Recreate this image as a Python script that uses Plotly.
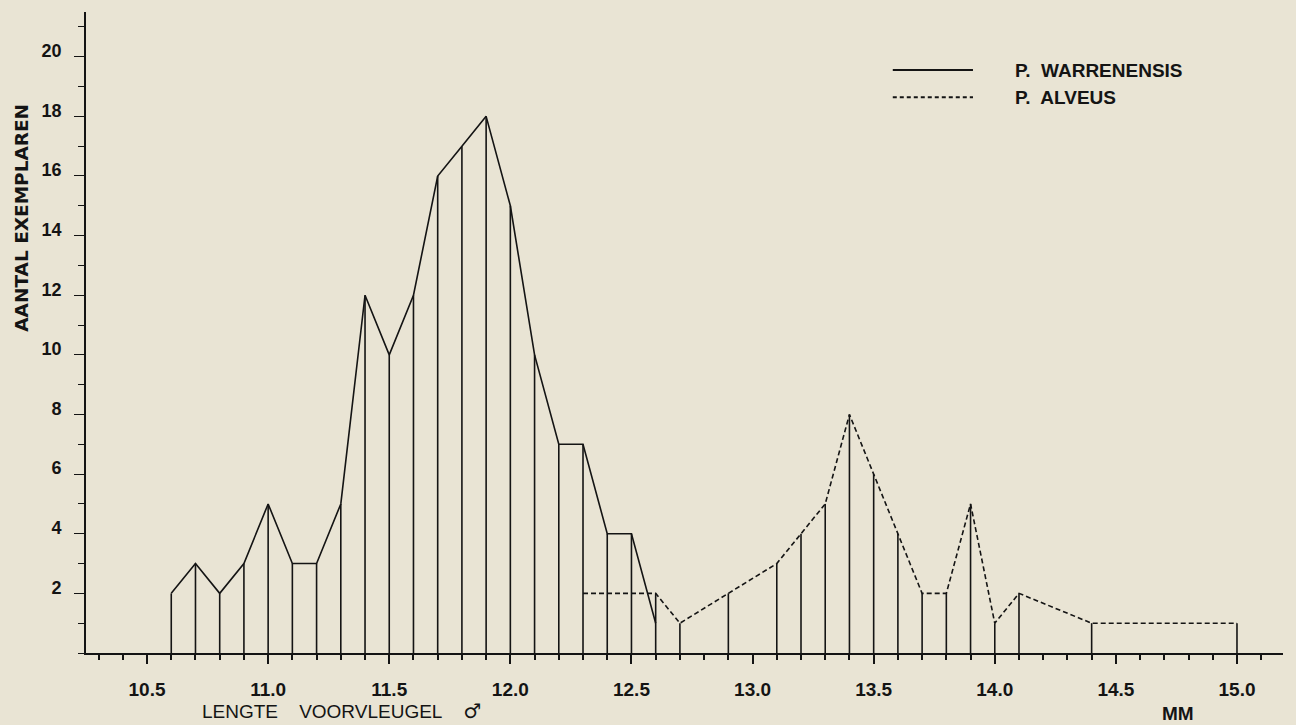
import plotly.graph_objects as go

# P. warrenensis (solid)
warr_x = [10.6, 10.7, 10.8, 10.9, 11.0, 11.1, 11.2, 11.3, 11.4, 11.5, 11.6,
          11.7, 11.8, 11.9, 12.0, 12.1, 12.2, 12.3, 12.4, 12.5, 12.6]
warr_y = [2, 3, 2, 3, 5, 3, 3, 5, 12, 10, 12, 16, 17, 18, 15, 10, 7, 7, 4, 4, 1]

# P. alveus (dashed)
alv_x = [12.3, 12.4, 12.5, 12.6, 12.7, 12.9, 13.1, 13.2, 13.3, 13.4, 13.5,
         13.6, 13.7, 13.8, 13.9, 14.0, 14.1, 14.4, 15.0]
alv_y = [2, 2, 2, 2, 1, 2, 3, 4, 5, 8, 6, 4, 2, 2, 5, 1, 2, 1, 1]

x_ticks = [10.5, 11.0, 11.5, 12.0, 12.5, 13.0, 13.5, 14.0, 14.5, 15.0]
x_tick_labels = ["10.5", "11.0", "11.5", "12.0", "12.5", "13.0", "13.5", "14.0", "14.5", "15.0"]
y_ticks = [2, 4, 6, 8, 10, 12, 14, 16, 18, 20]

legend_names = ["P.\u00a0 WARRENENSIS", "P.\u00a0 ALVEUS"]
x_title_words = "LENGTE\u00a0\u00a0\u00a0 VOORVLEUGEL\u00a0\u00a0\u00a0 "
male_sign = "\u2642"
y_title = "AANTAL EXEMPLAREN"
unit_label = "MM"

BG = "#e9e4d4"
INK = "#141414"
SANS = "Liberation Sans, Arial, sans-serif"

# vertical drop lines from the data
heights = {}
for xs, ys in ((warr_x, warr_y), (alv_x, alv_y)):
    for x, y in zip(xs, ys):
        k = round(x, 2)
        heights[k] = max(heights.get(k, 0), y)
vx, vy = [], []
for k in sorted(heights):
    vx += [k, k, None]
    vy += [0, heights[k], None]

fig = go.Figure()
fig.add_trace(go.Scatter(x=vx, y=vy, mode="lines",
                         line=dict(color=INK, width=1.6), showlegend=False,
                         hoverinfo="skip"))
fig.add_trace(go.Scatter(x=warr_x, y=warr_y, mode="lines", name=legend_names[0],
                         line=dict(color=INK, width=1.6), showlegend=False))
fig.add_trace(go.Scatter(x=alv_x, y=alv_y, mode="lines", name=legend_names[1],
                         line=dict(color=INK, width=1.6, dash="5px,3px"),
                         showlegend=False))

fig.update_layout(
    width=1296, height=725,
    paper_bgcolor=BG, plot_bgcolor=BG,
    margin=dict(l=86, r=13, t=12, b=72),
    showlegend=False,
    xaxis=dict(range=[10.248, 15.19], showgrid=False, zeroline=False,
               showline=True, linecolor=INK, linewidth=1.6,
               tickmode="array", tickvals=x_ticks, ticktext=x_tick_labels,
               ticks="outside", ticklen=9, tickwidth=1.6, tickcolor=INK,
               ticklabelstandoff=9,
               tickfont=dict(family=SANS, size=19, color=INK, weight="bold"),
               minor=dict(dtick=0.1, tick0=10.5, ticks="outside", ticklen=5,
                          tickwidth=1.6, tickcolor=INK, showgrid=False)),
    yaxis=dict(range=[0, 21.5], showgrid=False, zeroline=False,
               showline=True, linecolor=INK, linewidth=1.6,
               tickmode="array", tickvals=y_ticks,
               ticks="outside", ticklen=10, tickwidth=1.4, tickcolor=INK,
               ticklabelstandoff=9, ticklabelshift=-6,
               tickfont=dict(family=SANS, size=18, color=INK, weight="bold"),
               minor=dict(dtick=1, tick0=0, ticks="outside", ticklen=6,
                          tickwidth=1.4, tickcolor=INK, showgrid=False)),
)

# legend drawn as line samples + text
fig.add_shape(type="line", xref="paper", yref="paper", x0=0.674, x1=0.741,
              y0=0.9095, y1=0.9095, line=dict(color=INK, width=1.8))
fig.add_shape(type="line", xref="paper", yref="paper", x0=0.674, x1=0.741,
              y0=0.867, y1=0.867, line=dict(color=INK, width=1.8, dash="4px,3px"))
fig.add_annotation(xref="paper", yref="paper", x=0.7745, y=0.9095, text=legend_names[0],
                   showarrow=False, xanchor="left", yanchor="middle",
                   font=dict(family=SANS, size=19, color=INK, weight="bold"))
fig.add_annotation(xref="paper", yref="paper", x=0.7745, y=0.867, text=legend_names[1],
                   showarrow=False, xanchor="left", yanchor="middle",
                   font=dict(family=SANS, size=19, color=INK, weight="bold"))

# axis titles
fig.add_annotation(xref="paper", yref="y", x=0, xshift=-64, y=14.6, text=y_title,
                   textangle=-90, showarrow=False, xanchor="center", yanchor="middle",
                   font=dict(family="DejaVu Sans, sans-serif", size=18.5,
                             color=INK, weight="bold"))
fig.add_annotation(xref="x", yref="paper", x=10.719, y=0, yshift=-58,
                   text=x_title_words + "<span style='font-family:DejaVu Sans;font-size:20px;font-weight:bold'>"
                        + male_sign + "</span>",
                   showarrow=False, xanchor="left", yanchor="middle",
                   font=dict(family=SANS, size=19, color=INK))
fig.add_annotation(xref="x", yref="paper", x=14.757, y=0, yshift=-60, text=unit_label,
                   showarrow=False, xanchor="center", yanchor="middle",
                   font=dict(family=SANS, size=19, color=INK, weight="bold"))

fig.write_html(
    "out.html",
    config={"displayModeBar": False},
    post_script="document.body.style.margin='0';document.body.style.background='#e9e4d4';"
                "document.body.style.overflow='hidden';",
)
